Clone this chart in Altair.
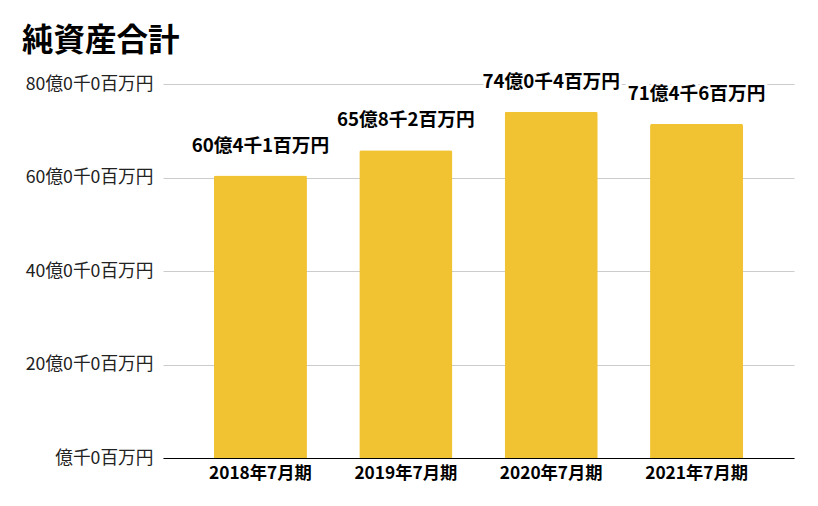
import altair as alt
import pandas as pd

periods = ["2018年7月期", "2019年7月期", "2020年7月期", "2021年7月期"]
values = [6041, 6582, 7404, 7146]  # 百万円
value_labels = ["60億4千1百万円", "65億8千2百万円", "74億0千4百万円", "71億4千6百万円"]
tick_values = [0, 2000, 4000, 6000, 8000]
tick_labels = ["億千0百万円", "20億0千0百万円", "40億0千0百万円", "60億0千0百万円", "80億0千0百万円"]

df = pd.DataFrame({"period": periods, "value": values, "label": value_labels})

FONT = "Noto Sans CJK JP"
label_map = "{" + ", ".join(f"'{v}': '{l}'" for v, l in zip(tick_values, tick_labels)) + "}"

base = alt.Chart(df).encode(
    x=alt.X("period:N", sort=periods, title=None,
            scale=alt.Scale(paddingInner=0.36, paddingOuter=0.35),
            axis=alt.Axis(labelAngle=0, labelFont=FONT, labelFontSize=17.3, labelFontWeight="bold",
                          labelColor="#000000", ticks=False, domainColor="#000000", grid=False,
                          labelPadding=6, domain=True)),
)

bars = base.mark_bar(color="#F1C232", cornerRadiusTopLeft=2, cornerRadiusTopRight=2).encode(
    y=alt.Y("value:Q", title=None,
            scale=alt.Scale(domain=[0, 8000], nice=False),
            axis=alt.Axis(values=tick_values, labelExpr=f"{label_map}[datum.value + '']",
                          labelFont=FONT, labelFontSize=17.7, labelColor="#222222",
                          ticks=False, domain=False, gridColor="#cccccc", labelPadding=10)),
)

halo = base.mark_text(font=FONT, fontSize=18.7, fontWeight="bold", dy=-30, baseline="middle",
                      stroke="white", strokeWidth=6, color="white").encode(
    y="value:Q", text="label:N")
text = base.mark_text(font=FONT, fontSize=18.7, fontWeight="bold", dy=-30, baseline="middle",
                      color="#000000").encode(
    y="value:Q", text="label:N")

chart = (bars + halo + text).properties(
    width=631, height=374,
    padding={"left": 14, "top": 18, "right": 5, "bottom": 5},
    view=alt.ViewBackground(stroke="transparent", strokeOpacity=0, strokeWidth=0),
    title=alt.TitleParams("純資産合計", font=FONT, fontSize=31.5, fontWeight="bold",
                          color="#000000", anchor="start", frame="group", offset=15, dx=-141),
).configure_view(stroke="transparent", strokeOpacity=0, strokeWidth=0).configure_axisX(
    grid=False).configure(background="white")

chart.save("out.html", embed_options={"renderer": "svg", "actions": False})
